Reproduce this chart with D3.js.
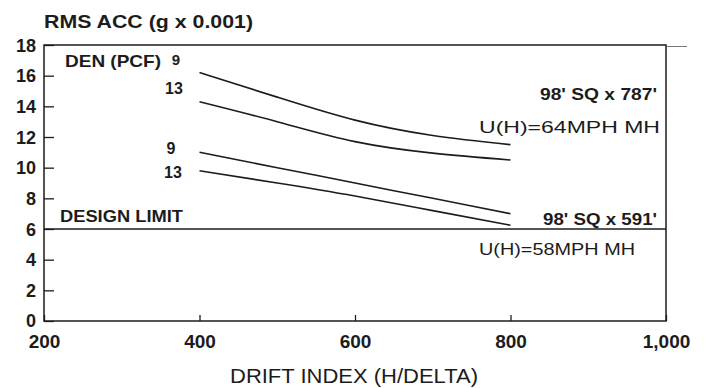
<!DOCTYPE html>
<meta charset="utf-8">
<body style="margin:0;background-color:white;">
<svg width="706" height="388"></svg>
<script src="https://d3js.org/d3.v7.min.js"></script>
<script>

// values
var driftIndex = [400, 500, 600, 700, 800];
var acc9_787  = [16.2, 14.6, 13.1, 12.1, 11.5];   // 98' SQ x 787', 9 pcf
var acc13_787 = [14.3, 13.0, 11.7, 10.95, 10.5];  // 98' SQ x 787', 13 pcf
var acc9_591  = [11.0, 10.0, 9.0, 8.0, 7.0];      // 98' SQ x 591', 9 pcf
var acc13_591 = [9.8, 9.0, 8.15, 7.2, 6.25];      // 98' SQ x 591', 13 pcf
var designLimit = 6;
var xTicks = [200, 400, 600, 800, 1000];
var yTicks = [0, 2, 4, 6, 8, 10, 12, 14, 16, 18];

var ink = '#1c1c1c';
var font = '"Liberation Sans", Arial, sans-serif';

var svg = d3.select('svg');

var x = d3.scaleLinear().domain([200, 1000]).range([44, 666]);
var y = d3.scaleLinear().domain([0, 18]).range([321, 45]);

// frame
svg.append('rect')
   .attr('x', x(200)).attr('y', y(18))
   .attr('width', x(1000) - x(200)).attr('height', y(0) - y(18))
   .attr('fill', 'none').attr('stroke', ink).attr('stroke-width', 1.5);
// little overrun of the top rule
svg.append('line')
   .attr('x1', x(1000)).attr('x2', x(1000) + 21)
   .attr('y1', y(18) + 1.5).attr('y2', y(18) + 1.5)
   .attr('stroke', '#555').attr('stroke-width', 0.8);

// axes
var yAxis = svg.append('g')
   .attr('transform', 'translate(' + x(200) + ',0)')
   .call(d3.axisLeft(y).tickValues(yTicks).tickSizeInner(-10).tickSizeOuter(0).tickPadding(8));
yAxis.select('.domain').remove();
yAxis.selectAll('line').attr('stroke', ink).attr('stroke-width', 1.3);
yAxis.selectAll('text')
   .attr('font-family', font).attr('font-weight', 'bold').attr('font-size', 18).attr('fill', ink)
   .attr('dy', function(d) { return d == 0 ? '0.28em' : '0.34em'; });

var xAxis = svg.append('g')
   .attr('transform', 'translate(0,' + y(0) + ')')
   .call(d3.axisBottom(x).tickValues(xTicks).tickFormat(d3.format(',')).tickSizeInner(-6).tickSizeOuter(0).tickPadding(14));
xAxis.select('.domain').remove();
xAxis.selectAll('line').attr('stroke', ink).attr('stroke-width', 1.3);
xAxis.selectAll('text')
   .attr('font-family', font).attr('font-weight', 'bold').attr('font-size', 19).attr('fill', ink);

// design limit
svg.append('line')
   .attr('x1', x(200)).attr('x2', x(1000))
   .attr('y1', y(designLimit)).attr('y2', y(designLimit))
   .attr('stroke', ink).attr('stroke-width', 1.5);

// curves
var line = d3.line()
   .x(function(d) { return x(d[0]); })
   .y(function(d) { return y(d[1]); })
   .curve(d3.curveNatural);

[acc9_787, acc13_787, acc9_591, acc13_591].forEach(function(series) {
  svg.append('path')
     .attr('d', line(d3.zip(driftIndex, series)))
     .attr('fill', 'none')
     .attr('stroke', ink)
     .attr('stroke-width', 1.6);
});

// labels
function label(txt, xx, yy, size, len, anchor, weight) {
  var t = svg.append('text')
     .attr('x', xx).attr('y', yy)
     .attr('font-family', font)
     .attr('font-weight', weight || 'bold')
     .attr('font-size', size)
     .attr('fill', ink)
     .attr('text-anchor', anchor || 'start')
     .text(txt);
  if (len) t.attr('textLength', len).attr('lengthAdjust', 'spacingAndGlyphs');
  return t;
}

label('RMS ACC (g x 0.001)', 44, 28, 18, 209);
label('DEN (PCF)', 65, 67, 17, 96);
label('9', 176, 65, 15, null, 'middle');
label('13', 174, 94, 16, null, 'middle');
label('9', 171, 154, 16, null, 'middle');
label('13', 173, 178, 16, null, 'middle');
label('DESIGN LIMIT', 60, 222, 17, 123);
label("98' SQ x 787'", 540, 100, 17, 117);
label('U(H)=64MPH MH', 479, 133, 17, 181, 'start', 'normal');
label("98' SQ x 591'", 543, 225, 17, 114);
label('U(H)=58MPH MH', 479, 255, 17, 156, 'start', 'normal');
label('DRIFT INDEX (H/DELTA)', 230, 383, 20, 248, 'start', 'normal');

</script>
</body>
